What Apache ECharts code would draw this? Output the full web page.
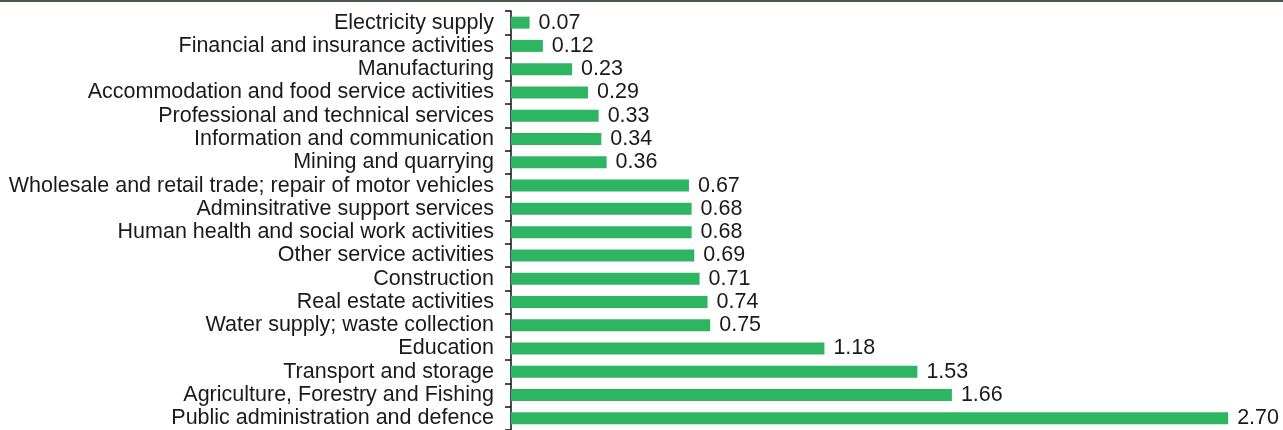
<!DOCTYPE html>
<html><head><meta charset="utf-8">
<script src="https://cdn.jsdelivr.net/npm/echarts@6/dist/echarts.min.js"></script>
<style>html,body{margin:0;padding:0;background:#fff;}#c{width:1283px;height:430px;}
#topline{position:absolute;left:0;top:0;width:1283px;height:2px;background:#4d5a49;}</style>
</head><body><div id="topline"></div><div id="c"></div>
<script>
const categories = [
 "Electricity supply","Financial and insurance activities","Manufacturing",
 "Accommodation and food service activities","Professional and technical services",
 "Information and communication","Mining and quarrying",
 "Wholesale and retail trade; repair of motor vehicles","Adminsitrative support services",
 "Human health and social work activities","Other service activities","Construction",
 "Real estate activities","Water supply; waste collection","Education",
 "Transport and storage","Agriculture, Forestry and Fishing","Public administration and defence"];
const values = [0.07,0.12,0.23,0.29,0.33,0.34,0.36,0.67,0.68,0.68,0.69,0.71,0.74,0.75,1.18,1.53,1.66,2.70];
const chart = echarts.init(document.getElementById('c'));
chart.setOption({
  animation:false,
  grid:{left:511,top:11,width:743.7,height:419.5},
  xAxis:{type:'value',min:0,max:2.8,show:false},
  yAxis:{type:'category',data:categories,inverse:true,
    axisLine:{lineStyle:{color:'#111',width:1.5}},
    axisTick:{show:true,length:6,interval:0,lineStyle:{color:'#111',width:1.5}},
    axisLabel:{interval:0,color:'#1a1a1a',fontFamily:'Liberation Sans',fontSize:21.5,margin:17}},
  series:[{type:'bar',data:values,barWidth:12,itemStyle:{color:'#2db562'},
    label:{show:true,position:'right',distance:9,color:'#1a1a1a',fontFamily:'Liberation Sans',fontSize:21.5,
      formatter:p=>p.value.toFixed(2)}}]
});
</script></body></html>
